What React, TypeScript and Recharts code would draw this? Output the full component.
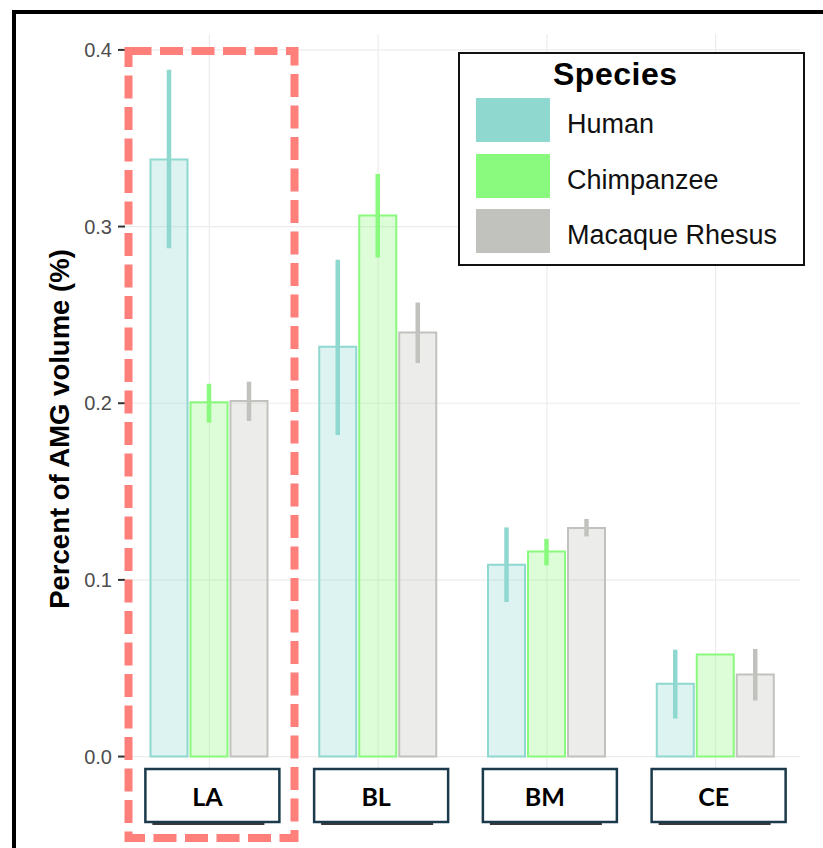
import React from "react";
import { BarChart, Bar, XAxis, YAxis, CartesianGrid, ErrorBar, Legend } from "recharts";

const regions = ["LA", "BL", "BM", "CE"];
const species = ["Human", "Chimpanzee", "Macaque Rhesus"];

const human = [0.338, 0.232, 0.1086, 0.0412];
const humanLow = [0.2877, 0.182, 0.0875, 0.0215];
const humanHigh = [0.3887, 0.2812, 0.1297, 0.0605];

const chimp = [0.2005, 0.3062, 0.116, 0.0578];
const chimpLow = [0.189, 0.2825, 0.1082, 0.0578];
const chimpHigh = [0.211, 0.3298, 0.1232, 0.0578];

const macaque = [0.2012, 0.24, 0.1294, 0.0464];
const macaqueLow = [0.19, 0.2227, 0.1246, 0.0317];
const macaqueHigh = [0.2122, 0.257, 0.1345, 0.0609];

const yTicks = [0, 0.1, 0.2, 0.3, 0.4];

const HUMAN = "#8fd8cf";
const CHIMP = "#8afa7e";
const MACAQUE = "#c1c2bd";
const FONT = "'Liberation Sans', Arial, sans-serif";

const data = regions.map((region, i) => ({
  region,
  human: human[i],
  humanErr: [human[i] - humanLow[i], humanHigh[i] - human[i]],
  chimp: chimp[i],
  chimpErr: [chimp[i] - chimpLow[i], chimpHigh[i] - chimp[i]],
  macaque: macaque[i],
  macaqueErr: [macaque[i] - macaqueLow[i], macaqueHigh[i] - macaque[i]],
}));

function RegionTick(props: any) {
  const { x, y, payload } = props;
  const bw = 134;
  const bx = x + 3 - bw / 2;
  return (
    <g>
      <rect x={bx + 7} y={y + 31} width={bw - 22} height={3} fill="#3a3a3a" />
      <rect
        x={bx}
        y={y - 22}
        width={bw}
        height={53}
        fill="#fff"
        stroke="#1b3a4b"
        strokeWidth={2.5}
      />
      <text
        x={x - 2}
        y={y + 15}
        textAnchor="middle"
        fontFamily="Lato, 'Open Sans', sans-serif"
        fontWeight={700}
        fontSize={25}
        fill="#000"
      >
        {payload.value}
      </text>
    </g>
  );
}

function SpeciesLegend(props: any) {
  const items = [...(props.payload || [])].sort(
    (a: any, b: any) => species.indexOf(a.value) - species.indexOf(b.value)
  );
  return (
    <div
      style={{
        boxSizing: "border-box",
        width: 347,
        height: 214,
        border: "2px solid #111",
        background: "#fff",
        position: "relative",
        fontFamily: FONT,
      }}
    >
      <div
        style={{
          position: "absolute",
          left: 93,
          top: 2,
          fontSize: 32,
          fontWeight: 700,
          letterSpacing: 0.5,
          color: "#000",
        }}
      >
        Species
      </div>
      {items.map((it: any, i: number) => (
        <div key={it.value}>
          <div
            style={{
              position: "absolute",
              left: 16,
              top: 44 + i * 55.5,
              width: 74,
              height: 44,
              background: it.color,
            }}
          />
          <div
            style={{
              position: "absolute",
              left: 107,
              top: 53 + i * 55.5,
              fontSize: 27,
              lineHeight: "34px",
              color: "#111",
            }}
          >
            {it.value}
          </div>
        </div>
      ))}
    </div>
  );
}

function YTitle() {
  return (
    <text
      transform="translate(69,429) rotate(-90)"
      textAnchor="middle"
      fontFamily={FONT}
      fontWeight={700}
      fontSize={27.5}
      fill="#000"
    >
      Percent of AMG volume (%)
    </text>
  );
}

export default function App() {
  return (
    <div
      style={{
        position: "absolute",
        left: 0,
        top: 0,
        width: 823,
        height: 848,
        overflow: "hidden",
        background: "#fff",
      }}
    >
      <div
        style={{
          position: "absolute",
          left: 12,
          top: 10,
          width: 900,
          height: 900,
          border: "4px solid #000",
        }}
      />
      <div style={{ position: "absolute", left: 0, top: 0 }}>
        <BarChart
          width={823}
          height={848}
          data={data}
          margin={{ top: 34, right: 23, bottom: 0, left: 0 }}
          barCategoryGap={25.5}
          barGap={3}
        >
          <CartesianGrid stroke="#ececec" strokeWidth={1.2} syncWithTicks />
          <XAxis
            dataKey="region"
            height={57}
            axisLine={false}
            tickLine={false}
            tickSize={0}
            tickMargin={0}
            interval={0}
            tick={<RegionTick />}
          />
          <YAxis
            width={125}
            type="number"
            domain={[-0.0195, 0.409]}
            allowDataOverflow
            ticks={yTicks}
            tickFormatter={(v: number) => v.toFixed(1)}
            axisLine={false}
            tickLine={{ stroke: "#333", strokeWidth: 2 }}
            tickSize={7}
            tickMargin={6}
            tick={{ fontSize: 20, fill: "#4d4d4d", fontFamily: FONT }}
            label={<YTitle />}
          />
          <Legend
            layout="vertical"
            align="center"
            verticalAlign="middle"
            content={<SpeciesLegend />}
            wrapperStyle={{ position: "absolute", left: 458, top: 52, width: 347, height: 214 }}
          />
          <Bar
            dataKey="human"
            name="Human"
            fill={HUMAN}
            fillOpacity={0.3}
            stroke={HUMAN}
            strokeWidth={2}
            isAnimationActive={false}
          >
            <ErrorBar dataKey="humanErr" width={0} stroke={HUMAN} strokeWidth={4.5} isAnimationActive={false} />
          </Bar>
          <Bar
            dataKey="chimp"
            name="Chimpanzee"
            fill={CHIMP}
            fillOpacity={0.3}
            stroke={CHIMP}
            strokeWidth={2}
            isAnimationActive={false}
          >
            <ErrorBar dataKey="chimpErr" width={0} stroke={CHIMP} strokeWidth={4.5} isAnimationActive={false} />
          </Bar>
          <Bar
            dataKey="macaque"
            name="Macaque Rhesus"
            fill={MACAQUE}
            fillOpacity={0.3}
            stroke={MACAQUE}
            strokeWidth={2}
            isAnimationActive={false}
          >
            <ErrorBar dataKey="macaqueErr" width={0} stroke={MACAQUE} strokeWidth={4.5} isAnimationActive={false} />
          </Bar>
        </BarChart>
      </div>
      <svg
        width={823}
        height={848}
        style={{ position: "absolute", left: 0, top: 0, pointerEvents: "none" }}
      >
        <rect
          x={128.5}
          y={51}
          width={166}
          height={787}
          fill="none"
          stroke="#ff7f7b"
          strokeWidth={8}
          strokeDasharray="23 8.5"
        />
      </svg>
    </div>
  );
}
